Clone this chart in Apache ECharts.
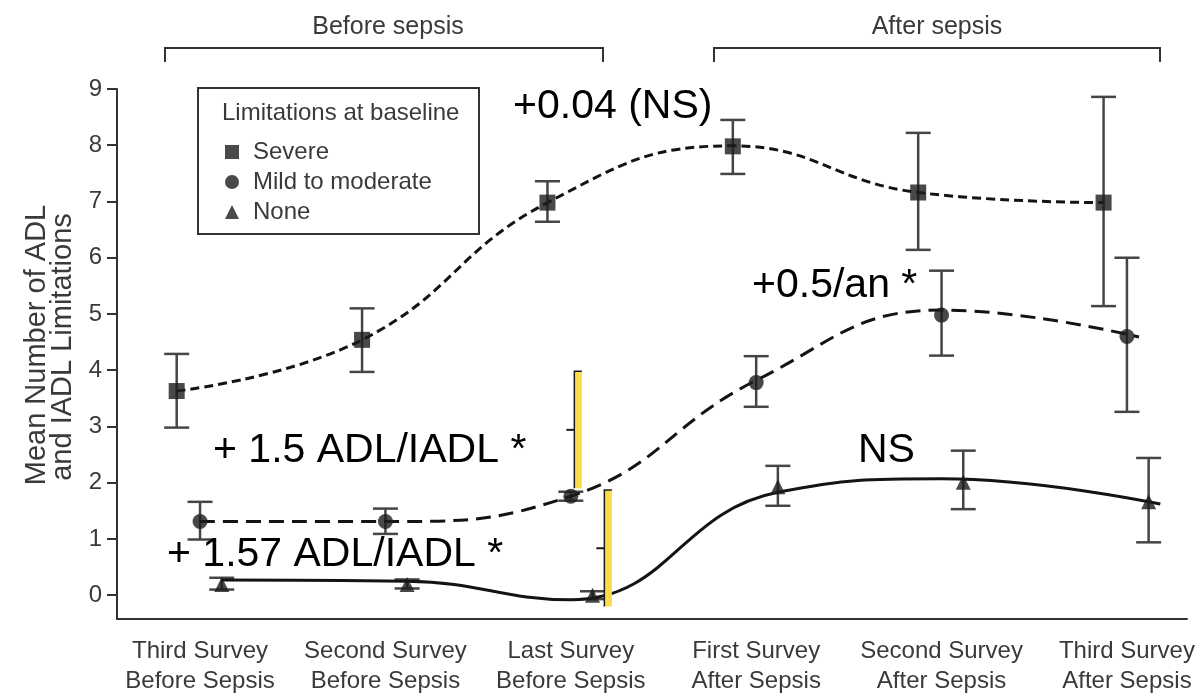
<!DOCTYPE html>
<html>
<head>
<meta charset="utf-8">
<script src="https://cdn.jsdelivr.net/npm/echarts@6/dist/echarts.min.js"></script>
<style>
  html, body { margin: 0; padding: 0; background: #ffffff; }
  #chart { width: 1199px; height: 696px; }
</style>
</head>
<body>
<div id="chart"></div>
<script>
// Survey time points (x axis)
const categories = [
  'Third Survey\nBefore Sepsis',
  'Second Survey\nBefore Sepsis',
  'Last Survey\nBefore Sepsis',
  'First Survey\nAfter Sepsis',
  'Second Survey\nAfter Sepsis',
  'Third Survey\nAfter Sepsis'
];
const yTicks = [0, 1, 2, 3, 4, 5, 6, 7, 8, 9];

// Mean number of ADL / IADL limitations with error bar ends, by baseline group
const severeMean = [3.63, 4.54, 6.98, 7.98, 7.16, 6.98];
const severeLow  = [2.98, 3.97, 6.64, 7.49, 6.14, 5.14];
const severeHigh = [4.29, 5.10, 7.36, 8.45, 8.22, 8.86];

const mildMean = [1.31, 1.31, 1.76, 3.78, 4.98, 4.60];
const mildLow  = [0.99, 1.09, 1.68, 3.35, 4.26, 3.26];
const mildHigh = [1.66, 1.54, 1.84, 4.25, 5.77, 6.00];

const noneMean = [0.19, 0.19, 0.00, 1.93, 2.01, 1.66];
const noneLow  = [0.10, 0.12, -0.07, 1.59, 1.53, 0.94];
const noneHigh = [0.31, 0.28, 0.07, 2.30, 2.57, 2.44];

// Fitted trend curves, [time index, value]
const severeTrend = [[-0.126, 3.63], [0.874, 4.54], [1.874, 6.98], [2.874, 7.99], [3.874, 7.16], [4.874, 6.98]];
const mildTrend   = [[0, 1.31], [1, 1.31], [2, 1.76], [3, 3.82], [4, 5.07], [5.065, 4.59]];
const noneTrend   = [[0.117, 0.27], [1.117, 0.25], [2.0, -0.08], [3.117, 1.83], [4.0, 2.07], [5.18, 1.62]];

// Change markers between the last survey before and the first after sepsis: [time index, low, high]
const changeMarks = [[2.019, 1.90, 3.98], [2.181, -0.20, 1.87]];

// Horizontal placement of each group around its survey point
const offsetSevere = -0.126;
const offsetMild = 0;
const offsetNone = 0.117;

const INK = '#141414';
const GREY = '#3a3a3a';
const SANS = '"Liberation Sans", Arial, Helvetica, sans-serif';

function points(values, offset) {
  return values.map((v, i) => [i + offset, v]);
}

function errorBars(name, lows, highs, offset) {
  return {
    type: 'custom',
    name: name,
    silent: true,
    z: 2,
    data: lows.map((lo, i) => [i + offset, lo, highs[i]]),
    encode: { x: 0, y: [1, 2] },
    renderItem(params, api) {
      const x = api.value(0);
      const lo = api.coord([x, api.value(1)]);
      const hi = api.coord([x, api.value(2)]);
      const hw = 12.5;
      const style = { stroke: '#454545', lineWidth: 2.5, fill: null };
      return {
        type: 'group',
        children: [
          { type: 'line', shape: { x1: lo[0], y1: lo[1], x2: hi[0], y2: hi[1] }, style },
          { type: 'line', shape: { x1: lo[0] - hw, y1: lo[1], x2: lo[0] + hw, y2: lo[1] }, style },
          { type: 'line', shape: { x1: hi[0] - hw, y1: hi[1], x2: hi[0] + hw, y2: hi[1] }, style }
        ]
      };
    }
  };
}

function trend(data, dash) {
  return {
    type: 'line',
    data: data,
    smooth: 0.45,
    symbol: 'none',
    silent: true,
    z: 3,
    lineStyle: { color: INK, width: 3, type: dash }
  };
}

function markers(name, data, symbol, size) {
  return {
    type: 'scatter',
    name: name,
    data: data,
    symbol: symbol,
    symbolSize: size,
    z: 5,
    itemStyle: { color: '#1c1c1c' }
  };
}

const chart = echarts.init(document.getElementById('chart'), null, { renderer: 'canvas' });

chart.setOption({
  animation: false,
  backgroundColor: '#ffffff',
  grid: { left: 117, right: 12, top: 89, bottom: 72, containLabel: false },
  xAxis: {
    type: 'value',
    min: -0.448,
    max: 5.324,
    axisLine: { show: true, onZero: false, lineStyle: { color: '#333', width: 2 } },
    axisTick: { show: false },
    splitLine: { show: false },
    axisLabel: {
      customValues: [0, 1, 2, 3, 4, 5],
      formatter: v => categories[Math.round(v)],
      margin: 17,
      fontFamily: SANS,
      fontSize: 24,
      lineHeight: 30,
      color: GREY,
      align: 'center',
      verticalAlign: 'top',
      hideOverlap: false
    }
  },
  yAxis: {
    type: 'value',
    min: -0.423,
    max: 9,
    axisLine: { show: true, onZero: false, lineStyle: { color: '#333', width: 2 } },
    axisTick: { show: true, customValues: yTicks, length: 10, lineStyle: { color: '#333', width: 2 } },
    splitLine: { show: false },
    axisLabel: {
      customValues: yTicks,
      margin: 15,
      fontFamily: SANS,
      fontSize: 24,
      color: GREY
    }
  },
  legend: {
    orient: 'vertical',
    left: 220,
    top: 135,
    itemWidth: 14,
    itemHeight: 14,
    itemGap: 6,
    selectedMode: false,
    textStyle: { fontFamily: SANS, fontSize: 24, lineHeight: 24, color: GREY, padding: [0, 0, 0, 9] },
    data: [
      { name: 'Severe', icon: 'rect' },
      { name: 'Mild to moderate', icon: 'circle' },
      { name: 'None', icon: 'triangle' }
    ]
  },
  series: [
    errorBars('Severe range', severeLow, severeHigh, offsetSevere),
    errorBars('Mild range', mildLow, mildHigh, offsetMild),
    errorBars('None range', noneLow, noneHigh, offsetNone),
    trend(severeTrend, [9, 5]),
    trend(mildTrend, [15, 8]),
    trend(noneTrend, 'solid'),
    markers('Severe', points(severeMean, offsetSevere), 'rect', 16),
    markers('Mild to moderate', points(mildMean, offsetMild), 'circle', 15),
    markers('None', points(noneMean, offsetNone), 'triangle', 15),
    {
      type: 'custom',
      name: 'change',
      silent: true,
      z: 6,
      data: changeMarks,
      encode: { x: 0, y: [1, 2] },
      renderItem(params, api) {
        const x = api.value(0);
        const lo = api.coord([x, api.value(1)]);
        const hi = api.coord([x, api.value(2)]);
        const mid = api.coord([x, (api.value(1) + api.value(2)) / 2]);
        const w = 7.5;
        return {
          type: 'group',
          children: [
            { type: 'rect', shape: { x: lo[0], y: hi[1], width: w, height: lo[1] - hi[1] }, style: { fill: '#FADB4B' } },
            { type: 'polyline', shape: { points: [[lo[0] + w, hi[1]], [lo[0], hi[1]], [lo[0], lo[1]]] }, style: { stroke: '#1a1a1a', lineWidth: 1.5, fill: null } },
            { type: 'line', shape: { x1: lo[0] - 8, y1: mid[1], x2: lo[0], y2: mid[1] }, style: { stroke: '#1a1a1a', lineWidth: 2 } }
          ]
        };
      }
    }
  ],
  graphic: [
    // legend frame and heading
    { type: 'rect', z: 1, shape: { x: 198, y: 88, width: 281, height: 146 }, style: { fill: '#ffffff', stroke: '#333', lineWidth: 2 } },
    { type: 'text', z: 10, x: 222, y: 113, style: { text: 'Limitations at baseline', font: '24px ' + SANS, fill: GREY, align: 'left', verticalAlign: 'middle' } },
    // y axis title
    { type: 'text', z: 10, x: 37, y: 345, rotation: Math.PI / 2, style: { text: 'Mean Number of ADL', font: '29px ' + SANS, fill: GREY, align: 'center', verticalAlign: 'middle' } },
    { type: 'text', z: 10, x: 63, y: 347, rotation: Math.PI / 2, style: { text: 'and IADL Limitations', font: '29px ' + SANS, fill: GREY, align: 'center', verticalAlign: 'middle' } },
    // period brackets
    { type: 'text', z: 10, x: 388, y: 27, style: { text: 'Before sepsis', font: '25px ' + SANS, fill: GREY, align: 'center', verticalAlign: 'middle' } },
    { type: 'text', z: 10, x: 937, y: 27, style: { text: 'After sepsis', font: '25px ' + SANS, fill: GREY, align: 'center', verticalAlign: 'middle' } },
    { type: 'polyline', z: 10, shape: { points: [[165, 62], [165, 48], [603, 48], [603, 62]] }, style: { stroke: '#333', lineWidth: 2, fill: null } },
    { type: 'polyline', z: 10, shape: { points: [[714, 62], [714, 48], [1160, 48], [1160, 62]] }, style: { stroke: '#333', lineWidth: 2, fill: null } },
    // change annotations
    { type: 'text', z: 10, x: 513, y: 107, style: { text: '+0.04 (NS)', font: '41px ' + SANS, fill: '#000', align: 'left', verticalAlign: 'middle' } },
    { type: 'text', z: 10, x: 752, y: 286, style: { text: '+0.5/an *', font: '41px ' + SANS, fill: '#000', align: 'left', verticalAlign: 'middle' } },
    { type: 'text', z: 10, x: 213, y: 451, style: { text: '+ 1.5 ADL/IADL *', font: '41px ' + SANS, fill: '#000', align: 'left', verticalAlign: 'middle' } },
    { type: 'text', z: 10, x: 167, y: 555, style: { text: '+ 1.57 ADL/IADL *', font: '41px ' + SANS, fill: '#000', align: 'left', verticalAlign: 'middle' } },
    { type: 'text', z: 10, x: 858, y: 451, style: { text: 'NS', font: '41px ' + SANS, fill: '#000', align: 'left', verticalAlign: 'middle' } }
  ]
});
</script>
</body>
</html>
